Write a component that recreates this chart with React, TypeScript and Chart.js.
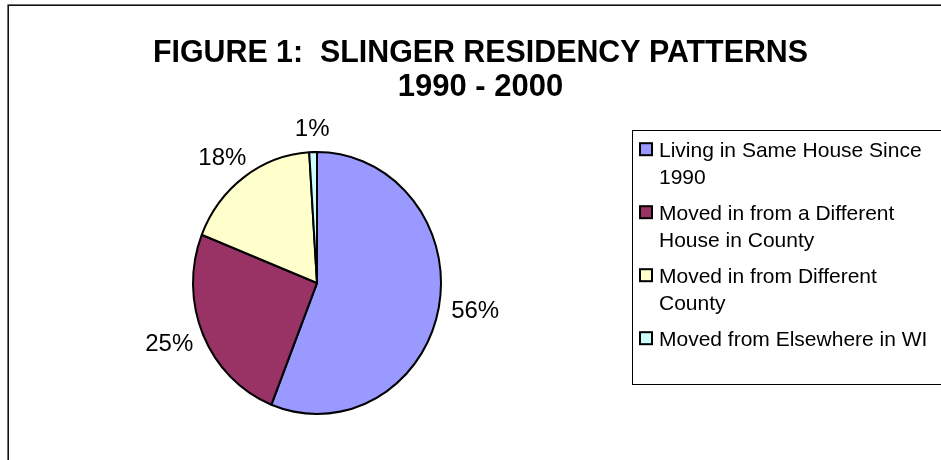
import React, { useEffect, useRef } from "react";
import { Chart, registerables } from "chart.js";

Chart.register(...registerables);

const categories = [
  "Living in Same House Since 1990",
  "Moved in from a Different House in County",
  "Moved in from Different County",
  "Moved from Elsewhere in WI",
];
const shares = [56, 25, 18, 1];
const sliceColors = ["#9999FF", "#993366", "#FFFFCC", "#CCFFFF"];
const titleLines = ["FIGURE 1:  SLINGER RESIDENCY PATTERNS", "1990 - 2000"];

const FONT = '"Liberation Sans", Arial, Helvetica, sans-serif';
const SY = 1.056; // vertical stretch of the pie (it is slightly oval)

function wrapText(ctx: CanvasRenderingContext2D, text: string, maxW: number): string[] {
  const words = text.split(" ");
  const lines: string[] = [];
  let cur = "";
  for (const w of words) {
    const test = cur ? cur + " " + w : w;
    if (ctx.measureText(test).width > maxW && cur) {
      lines.push(cur);
      cur = w;
    } else cur = test;
  }
  if (cur) lines.push(cur);
  return lines;
}

const framePlugin = {
  id: "frame",
  beforeDraw(chart: any) {
    const ctx = chart.ctx;
    ctx.save();
    ctx.fillStyle = "#ffffff";
    ctx.fillRect(0, 0, chart.width, chart.height);
    ctx.strokeStyle = "#111111";
    ctx.lineWidth = 1.6;
    ctx.strokeRect(8.2, 5.2, chart.width + 40, chart.height + 40);
    ctx.restore();
  },
};

const ovalPlugin = {
  id: "oval",
  beforeDatasetsDraw(chart: any) {
    const meta = chart.getDatasetMeta(0);
    const arc = meta.data[0];
    if (!arc) return;
    const ctx = chart.ctx;
    ctx.save();
    ctx.translate(arc.x, arc.y);
    ctx.scale(1, SY);
    ctx.translate(-arc.x, -arc.y);
  },
  afterDatasetsDraw(chart: any) {
    const ctx = chart.ctx;
    ctx.restore();
    // percentage labels
    const meta = chart.getDatasetMeta(0);
    const data = chart.data.datasets[0].data as number[];
    const total = data.reduce((a, b) => a + b, 0);
    ctx.save();
    ctx.font = `24px ${FONT}`;
    ctx.fillStyle = "#000000";
    ctx.textAlign = "center";
    ctx.textBaseline = "middle";
    const GAP = 12;
    meta.data.forEach((arc: any, i: number) => {
      const p = arc.getProps(["x", "y", "startAngle", "endAngle", "outerRadius"], true);
      const mid = (p.startAngle + p.endAngle) / 2;
      const dx = Math.cos(mid);
      const dy = Math.sin(mid);
      const r = p.outerRadius + 1 + GAP;
      const text = Math.round((data[i] / total) * 100) + "%";
      const w = ctx.measureText(text).width;
      const h = 18;
      const x = p.x + dx * r + (dx * w) / 2;
      const y = p.y + dy * r * SY + (dy * h) / 2;
      ctx.fillText(text, x, y);
    });
    ctx.restore();
  },
};

const textPlugin = {
  id: "texts",
  afterDraw(chart: any) {
    const ctx = chart.ctx;
    ctx.save();
    // title
    ctx.fillStyle = "#000000";
    ctx.font = `bold 31px ${FONT}`;
    ctx.textAlign = "center";
    ctx.textBaseline = "alphabetic";
    titleLines.forEach((t, i) => ctx.fillText(t, 480.5, 62 + i * 34, 655));

    // legend
    const left = 632.5;
    const top = 130.5;
    const bottom = 384.5;
    ctx.strokeStyle = "#000000";
    ctx.lineWidth = 1;
    ctx.strokeRect(left, top, chart.width + 40 - left, bottom - top);
    ctx.font = `21px ${FONT}`;
    ctx.textAlign = "left";
    const labels = chart.data.labels as string[];
    const colors = chart.data.datasets[0].backgroundColor as string[];
    labels.forEach((lab, i) => {
      const bl = 156.7 + i * 63;
      ctx.fillStyle = colors[i];
      ctx.fillRect(640, bl - 13.5, 12, 12);
      ctx.lineWidth = 2;
      ctx.strokeStyle = "#000000";
      ctx.strokeRect(640, bl - 13.5, 12, 12);
      ctx.fillStyle = "#000000";
      const lines = wrapText(ctx, lab, 278);
      lines.forEach((ln, j) => ctx.fillText(ln, 659, bl + j * 27));
    });
    ctx.restore();
  },
};

export default function App() {
  const canvasRef = useRef<HTMLCanvasElement | null>(null);

  useEffect(() => {
    if (!canvasRef.current) return;
    const chart = new Chart(canvasRef.current, {
      type: "pie",
      data: {
        labels: categories,
        datasets: [
          {
            data: shares,
            backgroundColor: sliceColors,
            borderColor: "#000000",
            borderWidth: 2,
            clip: false,
          } as any,
        ],
      },
      options: {
        responsive: false,
        animation: false,
        events: [],
        layout: { padding: { left: 192, right: 499, top: 158, bottom: 52 } },
        plugins: {
          legend: { display: false },
          title: { display: false },
          tooltip: { enabled: false },
        },
      },
      plugins: [framePlugin, ovalPlugin, textPlugin],
    });
    return () => chart.destroy();
  }, []);

  return (
    <div style={{ position: "absolute", left: 0, top: 0, width: 941, height: 460 }}>
      <canvas ref={canvasRef} width={941} height={460} style={{ display: "block" }} />
    </div>
  );
}
